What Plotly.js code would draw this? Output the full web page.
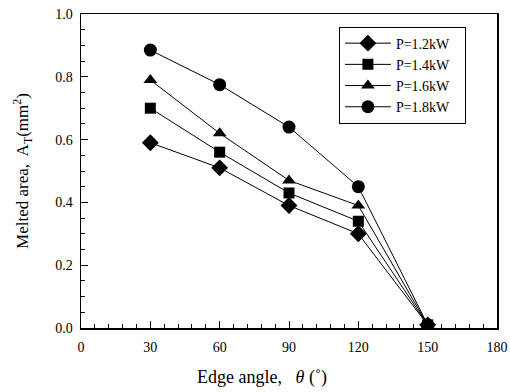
<!DOCTYPE html>
<html>
<head>
<meta charset="utf-8">
<script src="https://cdn.plot.ly/plotly-3.0.1.min.js"></script>
<style>html,body{margin:0;padding:0;background:#fff;}#chart{width:510px;height:392px;}</style>
</head>
<body>
<div id="chart"></div>
<script>
const angles = [30, 60, 90, 120, 150];
const p12 = [0.59, 0.51, 0.39, 0.30, 0.01];
const p14 = [0.70, 0.56, 0.43, 0.34, 0.01];
const p16 = [0.79, 0.62, 0.47, 0.39, 0.01];
const p18 = [0.885, 0.775, 0.64, 0.45, 0.01];
const names = ["P=1.2kW", "P=1.4kW", "P=1.6kW", "P=1.8kW"];
const symbols = ["diamond", "square", "triangle-up", "circle"];
const sizes = [13, 11, 12, 13];
const series = [p12, p14, p16, p18];

const pad = "&nbsp;".repeat(3);
const traces = series.map((ys, i) => ({
  x: angles, y: ys, name: names[i] + pad, type: "scatter", mode: "lines+markers",
  line: {color: "#000", width: 1},
  marker: {symbol: symbols[i], size: sizes[i], color: "#000"}
}));

const fam = "Liberation Serif, Times New Roman, serif";
const layout = {
  width: 510, height: 392,
  margin: {l: 81, r: 13, t: 14, b: 64},
  paper_bgcolor: "#fff", plot_bgcolor: "#fff",
  font: {family: fam, color: "#000", size: 14},
  showlegend: true,
  legend: {x: 0.62, y: 0.96, xanchor: "left", yanchor: "top",
    bordercolor: "#000", borderwidth: 1, bgcolor: "#fff", itemwidth: 46,
    font: {family: fam, size: 14, color: "#000"}, tracegroupgap: 0},
  xaxis: {
    range: [0, 180], dtick: 30, tick0: 0, showgrid: false, zeroline: false,
    showline: true, linecolor: "#000", linewidth: 1.5, mirror: true,
    ticks: "inside", ticklen: 7, tickwidth: 1, tickcolor: "#000",
    minor: {dtick: 6, ticks: "inside", ticklen: 4, tickcolor: "#000", tickwidth: 1},
    tickfont: {family: fam, size: 14, color: "#000"}, ticklabelstandoff: 6,
    title: {text: "Edge angle,&nbsp;&nbsp; <i>θ</i> (˚)" + "&nbsp;".repeat(12), font: {family: fam, size: 18, color: "#000"}, standoff: 16}
  },
  yaxis: {
    range: [0, 1.0], dtick: 0.2, tick0: 0, tickformat: ".1f", showgrid: false, zeroline: false,
    showline: true, linecolor: "#000", linewidth: 1.5, mirror: true,
    ticks: "inside", ticklen: 7, tickwidth: 1, tickcolor: "#000",
    minor: {dtick: 0.05, ticks: "inside", ticklen: 4, tickcolor: "#000", tickwidth: 1},
    tickfont: {family: fam, size: 14, color: "#000"}, ticklabelstandoff: 4,
    title: {text: "Melted area,&nbsp; A<sub>T</sub>(mm<sup>2</sup>)", font: {family: fam, size: 17, color: "#000"}, standoff: 22}
  }
};
Plotly.newPlot("chart", traces, layout, {displayModeBar: false, staticPlot: true});
</script>
</body>
</html>
